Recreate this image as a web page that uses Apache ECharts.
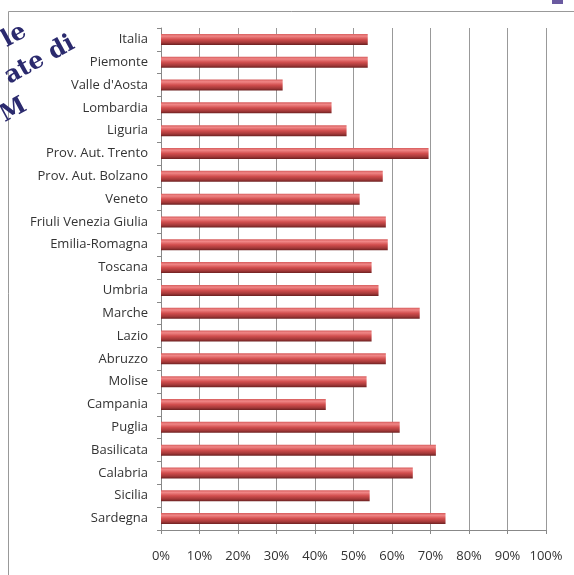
<!DOCTYPE html>
<html>
<head>
<meta charset="utf-8">
<script src="https://cdn.jsdelivr.net/npm/echarts@6/dist/echarts.min.js"></script>
<style>html,body{margin:0;padding:0;background:#fff}#c{width:574px;height:575px}</style>
</head>
<body>
<div id="c"></div>
<script>
const regions = ["Italia","Piemonte","Valle d'Aosta","Lombardia","Liguria","Prov. Aut. Trento","Prov. Aut. Bolzano","Veneto","Friuli Venezia Giulia","Emilia-Romagna","Toscana","Umbria","Marche","Lazio","Abruzzo","Molise","Campania","Puglia","Basilicata","Calabria","Sicilia","Sardegna"];
const shares = [53.7,53.7,31.6,44.3,48.2,69.5,57.6,51.6,58.4,58.9,54.7,56.5,67.2,54.7,58.4,53.4,42.8,62.0,71.4,65.4,54.2,73.9];
const xTicks = [0,10,20,30,40,50,60,70,80,90,100];
const titleFragments = ["le","ate di","M"];

const chart = echarts.init(document.getElementById('c'), null, {renderer:'canvas'});
const font = '"Open Sans", "Noto Sans", sans-serif';
const tfont = 'bold 24px "DejaVu Serif", serif';
chart.setOption({
  animation:false,
  backgroundColor:'#fff',
  grid:{left:161,right:28,top:28,bottom:45,containLabel:false},
  xAxis:{
    type:'value',min:xTicks[0],max:xTicks[xTicks.length-1],interval:10,
    axisLine:{show:true,lineStyle:{color:'#888',width:1}},
    axisTick:{show:true,length:4,lineStyle:{color:'#888'}},
    splitLine:{show:true,lineStyle:{color:'#999',width:1}},
    axisLabel:{formatter:v=>v+'%',color:'#333',fontSize:13,fontFamily:font,margin:20}
  },
  yAxis:{
    type:'category',data:regions,inverse:true,
    axisLine:{show:true,lineStyle:{color:'#888',width:1}},
    axisTick:{show:true,length:4,lineStyle:{color:'#888'}},
    axisLabel:{color:'#333',fontSize:13,fontFamily:font,margin:13}
  },
  series:[{
    type:'bar',data:shares,barWidth:11,
    itemStyle:{
      color:new echarts.graphic.LinearGradient(0,0,0,1,[
        {offset:0,color:'#d65c5c'},
        {offset:0.2,color:'#f08686'},
        {offset:0.5,color:'#d24e4e'},
        {offset:0.8,color:'#a23838'},
        {offset:1,color:'#6a2020'}
      ])
    }
  }],
  graphic:[
    {type:'line',shape:{x1:8.5,y1:11.5,x2:574,y2:11.5},style:{stroke:'#999',lineWidth:1},silent:true},
    {type:'line',shape:{x1:8.5,y1:11.5,x2:8.5,y2:575},style:{stroke:'#999',lineWidth:1},silent:true},
    {type:'rect',shape:{x:552,y:0,width:11,height:4},style:{fill:'#6a5aa0'},silent:true},
    {type:'text',x:25,y:30,rotation:0.5,style:{text:titleFragments[0],align:'right',verticalAlign:'middle',font:tfont,fill:'#2b2a6e'}},
    {type:'text',x:73,y:42,rotation:0.5,style:{text:titleFragments[1],align:'right',verticalAlign:'middle',font:tfont,fill:'#2b2a6e'}},
    {type:'text',x:25,y:104,rotation:0.5,style:{text:titleFragments[2],align:'right',verticalAlign:'middle',font:tfont,fill:'#2b2a6e'}}
  ]
});
</script>
</body>
</html>
